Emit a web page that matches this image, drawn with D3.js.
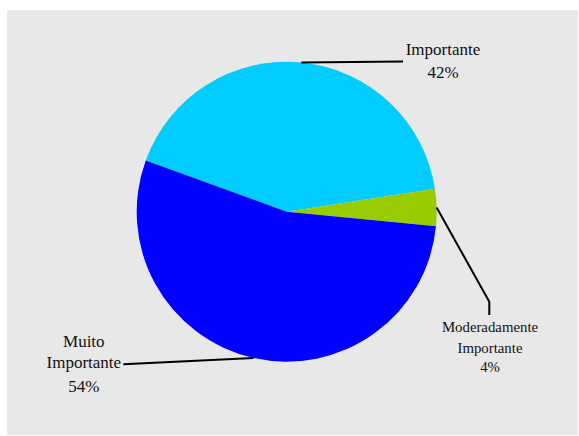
<!DOCTYPE html>
<html>
<head>
<meta charset="utf-8">
<script src="https://cdn.jsdelivr.net/npm/d3@7"></script>
<style>
  html, body { margin: 0; padding: 0; background: #ffffff; }
  svg { display: block; }
</style>
</head>
<body>
<svg id="chart" width="579" height="436"></svg>
<script>
// Importance ratings (percent of respondents)
const categories = ["Importante", "Moderadamente Importante", "Muito Importante"];
const values = [42, 4, 54];
const labelLines = [["Importante", "42%"], ["Moderadamente", "Importante", "4%"], ["Muito", "Importante", "54%"]];
const colors = ["#00CCFF", "#99CC00", "#0000FF"];

const svg = d3.select("#chart");

// grey plot area
svg.append("rect")
  .attr("x", 7).attr("y", 10)
  .attr("width", 571).attr("height", 425)
  .attr("fill", "#e8e8e8");

const cx = 286.7, cy = 211.7, r = 150;
const startDeg = -70;

const pie = d3.pie()
  .sort(null)
  .value(d => d)
  .startAngle(startDeg * Math.PI / 180)
  .endAngle((startDeg + 360) * Math.PI / 180);

const arcs = pie(values);
const arc = d3.arc().innerRadius(0).outerRadius(r);

const g = svg.append("g").attr("transform", `translate(${cx},${cy})`);

g.selectAll("path.slice")
  .data(arcs)
  .join("path")
  .attr("class", "slice")
  .attr("d", arc)
  .attr("fill", (d, i) => colors[i]);

// point on the rim at the middle of each slice
function rimPoint(d) {
  const a = (d.startAngle + d.endAngle) / 2;
  return [cx + r * Math.sin(a), cy - r * Math.cos(a)];
}

// leader line bends and label placement
const layout = [
  { bend: [], end: [403, 61.5], tx: 443, baselines: [55, 78], size: 17 },
  { bend: [[489.3, 301.7]], end: [489.3, 315], tx: 490, baselines: [332.3, 352.7, 371.7], size: 14.8 },
  { bend: [], end: [123.3, 364.3], tx: 83.8, baselines: [346.7, 368.3, 391.7], size: 17 }
];

const line = d3.line();

arcs.forEach((d, i) => {
  const L = layout[i];
  const pts = [rimPoint(d), ...L.bend, L.end];
  svg.append("path")
    .attr("d", line(pts))
    .attr("fill", "none")
    .attr("stroke", "#000")
    .attr("stroke-width", 2);

  const t = svg.append("text")
    .attr("text-anchor", "middle")
    .attr("font-family", "'Liberation Serif', 'Times New Roman', serif")
    .attr("font-size", L.size)
    .attr("fill", "#111");
  labelLines[i].forEach((s, k) => {
    t.append("tspan")
      .attr("x", L.tx)
      .attr("y", L.baselines[k])
      .text(s);
  });
});
</script>
</body>
</html>
